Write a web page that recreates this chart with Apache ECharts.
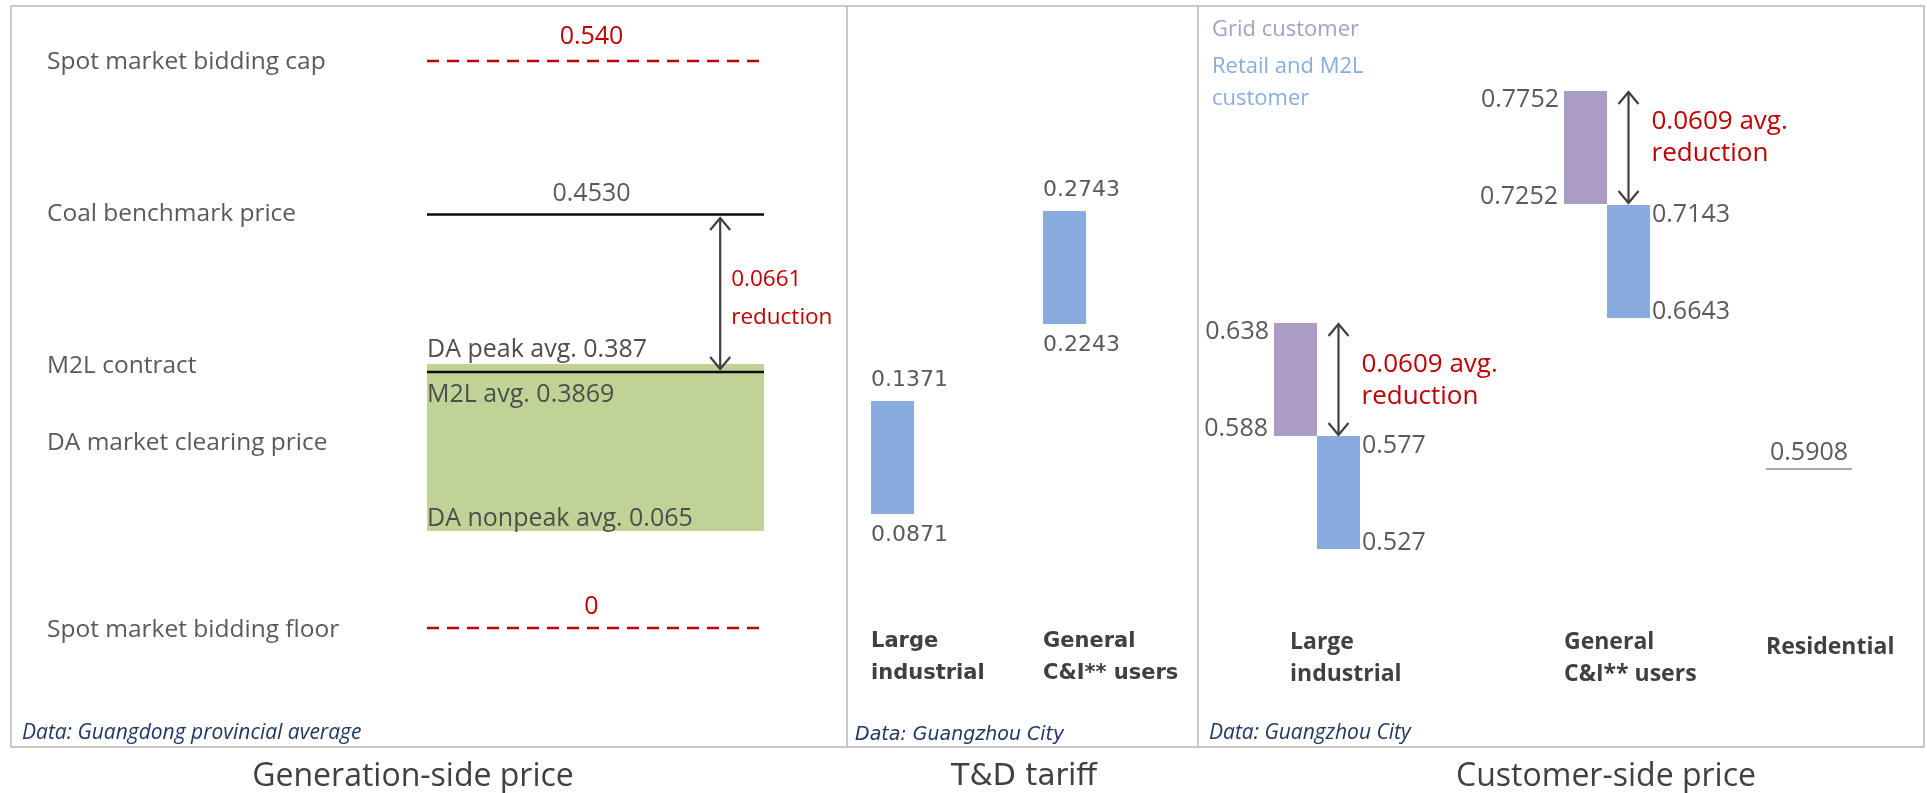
<!DOCTYPE html>
<html>
<head>
<meta charset="utf-8">
<script src="https://cdn.jsdelivr.net/npm/echarts@6/dist/echarts.min.js"></script>
<style>
  html, body { margin: 0; padding: 0; background: #ffffff; }
  #chart { width: 1927px; height: 793px; }
</style>
</head>
<body>
<div id="chart"></div>
<script>
// ---------------- data (CNY/kWh) ----------------
// Generation side (Guangdong provincial average)
const genRows = ['Spot market bidding cap', 'Coal benchmark price', 'M2L contract', 'DA market clearing price', 'Spot market bidding floor'];
const spotCap = 0.540;
const spotFloor = 0;
const coalBenchmark = 0.4530;
const m2lAvg = 0.3869;
const daPeakAvg = 0.387;
const daNonpeakAvg = 0.065;
const genReduction = 0.0661;

// T&D tariff (Guangzhou City)
const tdCategories = ['Large\nindustrial', 'General\nC&I** users'];
const tdHigh = [0.1371, 0.2743];
const tdLow = [0.0871, 0.2243];

// Customer side (Guangzhou City)
const custCategories = ['Large\nindustrial', 'General\nC&I** users', 'Residential'];
const gridCustHigh = [0.638, 0.7752];
const gridCustLow = [0.588, 0.7252];
const retailHigh = [0.577, 0.7143];
const retailLow = [0.527, 0.6643];
const custReduction = [0.0609, 0.0609];
const residentialPrice = 0.5908;

// ---------------- styles & layout ----------------
const FONT_MAIN = '"Open Sans", Lato, sans-serif';
const FONT_TD = '"DejaVu Sans", Verdana, sans-serif';
const RED = '#c00000';
const INK = '#5a5a5a';
const DARK = '#404040';
const NAVY = '#1f3864';
const LINE_BLACK = '#0d0d0d';
const PURPLE = '#aa9cc5';
const BLUE = '#89acdf';
const GREEN = '#bfd397';
const FRAME = '#b8b8b8';

const BAR_W = 43;                  // bar width in px
const BAR_SCALE = 2260;            // px per CNY/kWh for the tariff bars
const GEN_LABEL_X = 47;            // left edge of the generation row labels
const GEN_ARROW_POS = 0.87;        // arrow position across the generation band
const CUST_SHIFT = [-16, 36, 0];   // offset of each customer group from its category tick
const CUST_NOTE_DY = [1.5, -9.5];  // vertical nudge of the reduction notes
const CH = 793;                    // chart height

// Schematic chart: every mark group sits on its own hidden value axis,
// all sharing one pixel grid so the marks stack as in the layout.
function anchoredAxis(gridIndex, v, py, pxPerUnit, top, h) {
  const max = v + (py - top) / pxPerUnit;
  return { type: 'value', gridIndex: gridIndex, show: false, scale: true,
           min: max - h / pxPerUnit, max: max, splitLine: { show: false } };
}
function spanAxis(gridIndex, v1, p1, v2, p2, top, h) {
  return anchoredAxis(gridIndex, v1, p1, (p2 - p1) / (v1 - v2), top, h);
}

function txt(x, y, text, o) {
  return { type: 'text', x: x, y: y, silent: true,
    style: Object.assign({ text: text, fill: INK, fontFamily: FONT_MAIN, fontSize: 26,
      align: 'left', verticalAlign: 'middle' }, o || {}) };
}
function arrow(x, y1, y2, color) {
  const h = 12, w = 10;
  const st = { stroke: color, lineWidth: 2.2, fill: null };
  return { type: 'group', children: [
    { type: 'line', shape: { x1: x, y1: y1, x2: x, y2: y2 }, style: st },
    { type: 'polyline', shape: { points: [[x - w, y1 + h], [x, y1], [x + w, y1 + h]] }, style: st },
    { type: 'polyline', shape: { points: [[x - w, y2 - h], [x, y2], [x + w, y2 - h]] }, style: st }
  ]};
}

// ---------------- axes ----------------
const yAxes = [
  // generation panel (grid 0)
  anchoredAxis(0, spotCap, 61, 1000, 0, CH),                               // 0 cap
  spanAxis(0, coalBenchmark, 214.5, m2lAvg, 372, 0, CH),                   // 1 coal / M2L
  spanAxis(0, daPeakAvg, 364, daNonpeakAvg, 531, 0, CH),                   // 2 DA range
  anchoredAxis(0, spotFloor, 628, 1000, 0, CH),                            // 3 floor
  // T&D panel (grid 1)
  anchoredAxis(1, tdHigh[0], 401, BAR_SCALE, 0, 600),                      // 4
  anchoredAxis(1, tdHigh[1], 211, BAR_SCALE, 0, 600),                      // 5
  // customer panel (grid 2)
  anchoredAxis(2, gridCustHigh[0], 323, BAR_SCALE, 0, 600),                // 6
  anchoredAxis(2, retailHigh[0], 436, BAR_SCALE, 0, 600),                  // 7
  anchoredAxis(2, gridCustHigh[1], 91, BAR_SCALE, 0, 600),                 // 8
  anchoredAxis(2, retailHigh[1], 205, BAR_SCALE, 0, 600),                  // 9
  anchoredAxis(2, residentialPrice, 469, BAR_SCALE, 0, 600)                // 10
];

const catLabel = {
  interval: 0, align: 'left', margin: 26, color: DARK, fontWeight: 'bold', lineHeight: 32
};
const custRich = { fontFamily: FONT_MAIN, fontSize: 23, fontWeight: 'bold', color: DARK, lineHeight: 32 };

const xAxes = [
  { type: 'category', gridIndex: 0, data: ['generation'], show: false },
  { type: 'category', gridIndex: 1, data: tdCategories,
    axisLine: { show: false }, axisTick: { show: false }, splitLine: { show: false },
    axisLabel: Object.assign({}, catLabel, { fontFamily: FONT_TD, fontSize: 21 }) },
  { type: 'category', gridIndex: 2, data: custCategories,
    axisLine: { show: false }, axisTick: { show: false }, splitLine: { show: false },
    axisLabel: Object.assign({}, catLabel, {
      fontFamily: FONT_MAIN, fontSize: 23,
      formatter: function (v, i) { return v.split('\n').map(function (l) { return '{c' + i + '|' + l + '}'; }).join('\n'); },
      rich: {
        c0: Object.assign({}, custRich),
        c1: Object.assign({ padding: [0, 0, 0, CUST_SHIFT[1]] }, custRich),
        c2: Object.assign({ padding: [11, 0, 0, 0] }, custRich)
      }
    }) }
];

// ---------------- series ----------------
function bandOf(api, value) {
  const p = api.coord([0, value]);
  const bw = api.size([1, 0])[0];
  return { x0: p[0] - bw / 2, x1: p[0] + bw / 2, cx: p[0], y: p[1], bw: bw };
}

function levelLine(opts) {
  return function (params, api) {
    const b = bandOf(api, api.value(1));
    const children = [
      { type: 'line', shape: { x1: b.x0, y1: b.y, x2: b.x1 - (opts.dash ? 2 : 0), y2: b.y },
        style: { stroke: opts.color, lineWidth: 2.5, lineDash: opts.dash ? [12, 8] : null } },
      txt(GEN_LABEL_X, b.y + opts.rowDy, opts.row, { fontSize: 24.5 })
    ];
    if (opts.valueText != null) {
      children.push(txt(b.cx - 4, b.y + opts.valueDy, opts.valueText,
        { align: 'center', fill: opts.valueColor, fontSize: 25 }));
    }
    if (opts.noteText) {
      children.push(txt(b.x0, b.y + opts.noteDy, opts.noteText, { fontSize: 25, fill: '#4d4d4d' }));
    }
    return { type: 'group', children: children };
  };
}

const genSeries = [
  { // day-ahead clearing range
    type: 'custom', name: 'DA market clearing price', xAxisIndex: 0, yAxisIndex: 2,
    data: [[0, daPeakAvg, daNonpeakAvg]],
    renderItem: function (params, api) {
      const t = bandOf(api, api.value(1));
      const b = bandOf(api, api.value(2));
      return { type: 'group', children: [
        { type: 'rect', shape: { x: t.x0, y: t.y, width: t.bw, height: b.y - t.y }, style: { fill: GREEN } },
        txt(t.x0, t.y - 14, 'DA peak avg. ' + daPeakAvg.toFixed(3), { fontSize: 25, fill: '#4d4d4d' }),
        txt(t.x0, b.y - 12, 'DA nonpeak avg. ' + daNonpeakAvg.toFixed(3), { fontSize: 25, fill: '#4d4d4d' }),
        txt(GEN_LABEL_X, (t.y + b.y) / 2 - 4, genRows[3], { fontSize: 24.5 })
      ]};
    }
  },
  { type: 'custom', name: 'M2L contract', xAxisIndex: 0, yAxisIndex: 1, data: [[0, m2lAvg]],
    renderItem: levelLine({ color: LINE_BLACK, row: genRows[2], rowDy: -6,
      noteText: 'M2L avg. ' + m2lAvg.toFixed(4), noteDy: 23 }) },
  { type: 'custom', name: 'Coal benchmark price', xAxisIndex: 0, yAxisIndex: 1, data: [[0, coalBenchmark]],
    renderItem: levelLine({ color: LINE_BLACK, row: genRows[1], rowDy: 0,
      valueText: coalBenchmark.toFixed(4), valueColor: INK, valueDy: -21 }) },
  { type: 'custom', name: 'Coal to M2L reduction', xAxisIndex: 0, yAxisIndex: 1, data: [[0, coalBenchmark, m2lAvg]],
    renderItem: function (params, api) {
      const t = bandOf(api, api.value(1));
      const b = bandOf(api, api.value(2));
      const x = t.x0 + t.bw * GEN_ARROW_POS;
      return { type: 'group', children: [
        arrow(x, t.y + 3.5, b.y - 3, DARK),
        txt(x + 11, (t.y + b.y) / 2 + 5, genReduction.toFixed(4) + '\nreduction',
          { fill: RED, fontSize: 22.5, lineHeight: 38 })
      ]};
    } },
  { type: 'custom', name: 'Spot market bidding cap', xAxisIndex: 0, yAxisIndex: 0, data: [[0, spotCap]],
    renderItem: levelLine({ color: RED, dash: true, row: genRows[0], rowDy: 1,
      valueText: spotCap.toFixed(3), valueColor: RED, valueDy: -24 }) },
  { type: 'custom', name: 'Spot market bidding floor', xAxisIndex: 0, yAxisIndex: 3, data: [[0, spotFloor]],
    renderItem: levelLine({ color: RED, dash: true, row: genRows[4], rowDy: 2,
      valueText: String(spotFloor), valueColor: RED, valueDy: -21 }) }
];

const tdSeries = tdCategories.map(function (c, k) {
  return {
    type: 'custom', name: 'T&D tariff', xAxisIndex: 1, yAxisIndex: 4 + k,
    data: [[k, tdLow[k], tdHigh[k]]],
    renderItem: function (params, api) {
      const top = api.coord([api.value(0), api.value(2)]);
      const bot = api.coord([api.value(0), api.value(1)]);
      const x = top[0];
      const f = { fontFamily: FONT_TD, fontSize: 22, fill: INK };
      return { type: 'group', children: [
        { type: 'rect', shape: { x: x, y: top[1], width: BAR_W, height: bot[1] - top[1] }, style: { fill: BLUE } },
        txt(x, top[1] - 21, tdHigh[k].toFixed(4), f),
        txt(x, bot[1] + 21, tdLow[k].toFixed(4), f)
      ]};
    }
  };
});

function decimals(v) { const s = String(v); return s.indexOf('.') < 0 ? 0 : s.split('.')[1].length; }

const custSeries = [];
[0, 1].forEach(function (k) {
  // grid (catalogue) price
  custSeries.push({
    type: 'custom', name: 'Grid customer', xAxisIndex: 2, yAxisIndex: k === 0 ? 6 : 8,
    data: [[k, gridCustLow[k], gridCustHigh[k]]],
    renderItem: function (params, api) {
      const top = api.coord([api.value(0), api.value(2)]);
      const bot = api.coord([api.value(0), api.value(1)]);
      const x = top[0] + CUST_SHIFT[k];
      const f = { fontSize: 25, align: 'right' };
      return { type: 'group', children: [
        { type: 'rect', shape: { x: x, y: top[1], width: BAR_W, height: bot[1] - top[1] }, style: { fill: PURPLE } },
        txt(x - 5, top[1] + 9, gridCustHigh[k].toFixed(decimals(gridCustHigh[k])), f),
        txt(x - 6, bot[1] - 7, gridCustLow[k].toFixed(decimals(gridCustLow[k])), f)
      ]};
    }
  });
  // retail / M2L price
  custSeries.push({
    type: 'custom', name: 'Retail and M2L customer', xAxisIndex: 2, yAxisIndex: k === 0 ? 7 : 9,
    data: [[k, retailLow[k], retailHigh[k]]],
    renderItem: function (params, api) {
      const top = api.coord([api.value(0), api.value(2)]);
      const bot = api.coord([api.value(0), api.value(1)]);
      const x = top[0] + CUST_SHIFT[k] + BAR_W;
      const f = { fontSize: 25 };
      return { type: 'group', children: [
        { type: 'rect', shape: { x: x, y: top[1], width: BAR_W, height: bot[1] - top[1] }, style: { fill: BLUE } },
        txt(x + BAR_W + 2, top[1] + 10, retailHigh[k].toFixed(decimals(retailHigh[k])), f),
        txt(x + BAR_W + 2, bot[1] - 6, retailLow[k].toFixed(decimals(retailLow[k])), f)
      ]};
    }
  });
  // reduction arrow between the two price levels
  custSeries.push({
    type: 'custom', name: 'Average reduction', xAxisIndex: 2, yAxisIndex: k === 0 ? 6 : 8,
    data: [[k, gridCustHigh[k], gridCustLow[k]]],
    renderItem: function (params, api) {
      const top = api.coord([api.value(0), api.value(1)]);
      const bot = api.coord([api.value(0), api.value(2)]);
      const x = top[0] + CUST_SHIFT[k] + BAR_W * 1.5;
      return { type: 'group', children: [
        arrow(x, top[1] + 1, bot[1] - 1, DARK),
        txt(x + 23, (top[1] + bot[1]) / 2 + CUST_NOTE_DY[k], custReduction[k].toFixed(4) + ' avg.\nreduction',
          { fill: RED, fontSize: 26, lineHeight: 32 })
      ]};
    }
  });
});
custSeries.push({
  type: 'custom', name: 'Residential', xAxisIndex: 2, yAxisIndex: 10,
  data: [[2, residentialPrice]],
  renderItem: function (params, api) {
    const p = api.coord([api.value(0), api.value(1)]);
    const x = p[0] + CUST_SHIFT[2];
    return { type: 'group', children: [
      { type: 'line', shape: { x1: x, y1: p[1], x2: x + 2 * BAR_W, y2: p[1] }, style: { stroke: '#8c8c8c', lineWidth: 1.5 } },
      txt(x + BAR_W, p[1] - 16, residentialPrice.toFixed(4), { fontSize: 25, align: 'center' })
    ]};
  }
});

// ---------------- frames, panel titles, sources ----------------
const graphics = [
  { type: 'rect', shape: { x: 11, y: 6, width: 1913, height: 741 }, style: { fill: 'none', stroke: FRAME, lineWidth: 1.5 }, silent: true },
  { type: 'line', shape: { x1: 847, y1: 6, x2: 847, y2: 747 }, style: { stroke: FRAME, lineWidth: 1.5 }, silent: true },
  { type: 'line', shape: { x1: 1198, y1: 6, x2: 1198, y2: 747 }, style: { stroke: FRAME, lineWidth: 1.5 }, silent: true },
  txt(413, 777, 'Generation-side price', { align: 'center', fontSize: 32, fill: DARK }),
  txt(1024, 777, 'T&D tariff', { align: 'center', fontSize: 30, fill: DARK, fontFamily: FONT_TD }),
  txt(1606, 777, 'Customer-side price', { align: 'center', fontSize: 32, fill: DARK }),
  txt(22, 733, 'Data: Guangdong provincial average', { fontSize: 21, fill: NAVY, fontStyle: 'italic' }),
  txt(855, 735, 'Data: Guangzhou City', { fontSize: 19, fill: NAVY, fontStyle: 'italic', fontFamily: FONT_TD }),
  txt(1209, 733, 'Data: Guangzhou City', { fontSize: 21, fill: NAVY, fontStyle: 'italic' })
];

const chart = echarts.init(document.getElementById('chart'), null, { renderer: 'canvas', width: 1927, height: 793 });
chart.setOption({
  animation: false,
  backgroundColor: '#ffffff',
  grid: [
    { left: 427, top: 0, width: 337, height: CH },
    { left: 785, top: 0, width: 344, height: 600 },
    { left: 1171, top: 0, width: 714, height: 600 }
  ],
  xAxis: xAxes,
  yAxis: yAxes,
  legend: {
    left: 1207, top: 14, orient: 'vertical', padding: 0, itemGap: 5,
    icon: 'none', itemWidth: 0, itemHeight: 0, selectedMode: false,
    textStyle: { fontFamily: FONT_MAIN, fontSize: 22, lineHeight: 32 },
    formatter: function (name) { return name === 'Retail and M2L customer' ? 'Retail and M2L\ncustomer' : name; },
    data: [
      { name: 'Grid customer', textStyle: { color: PURPLE } },
      { name: 'Retail and M2L customer', textStyle: { color: BLUE } }
    ]
  },
  graphic: graphics,
  series: genSeries.concat(tdSeries, custSeries)
});
</script>
</body>
</html>
